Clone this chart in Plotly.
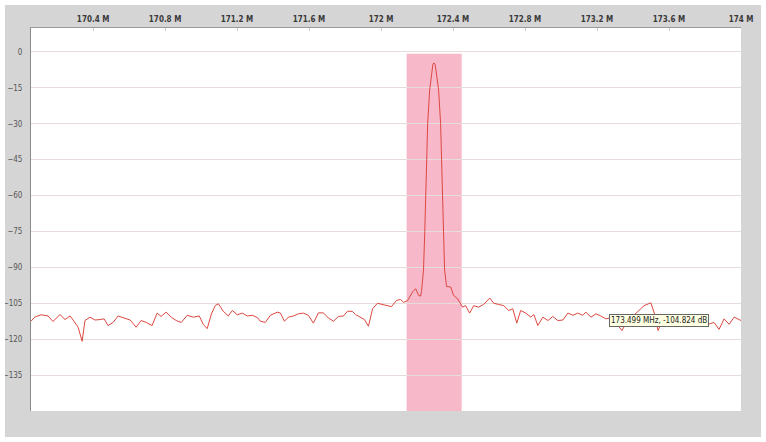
import plotly.graph_objects as go

# Spectrum trace (MHz, dB)
freq_mhz = [
    170.055, 170.075, 170.111, 170.150, 170.177, 170.216, 170.244, 170.272, 170.289, 170.317,
    170.339, 170.355, 170.383, 170.411, 170.439, 170.461, 170.483, 170.511, 170.539, 170.578,
    170.606, 170.639, 170.667, 170.695, 170.728, 170.756, 170.778, 170.806, 170.834, 170.862,
    170.890, 170.923, 170.957, 170.990, 171.012, 171.034, 171.057, 171.079, 171.096, 171.123,
    171.151, 171.174, 171.201, 171.229, 171.257, 171.285, 171.313, 171.329, 171.357, 171.385,
    171.424, 171.441, 171.463, 171.485, 171.513, 171.541, 171.569, 171.596, 171.624, 171.652,
    171.680, 171.708, 171.736, 171.763, 171.791, 171.814, 171.841, 171.858, 171.886, 171.908,
    171.930, 171.953, 171.980, 172.008, 172.036, 172.058, 172.086, 172.108, 172.125, 172.147,
    172.175, 172.192, 172.209, 172.220, 172.225, 172.236, 172.243, 172.250, 172.259, 172.270,
    172.281, 172.288, 172.294, 172.300, 172.306, 172.320, 172.331, 172.339, 172.345, 172.353,
    172.364, 172.387,
    172.403, 172.426, 172.453, 172.470, 172.492, 172.515, 172.542, 172.570, 172.604, 172.626,
    172.654, 172.682, 172.709, 172.732, 172.754, 172.776, 172.804, 172.832, 172.849, 172.871,
    172.899, 172.927, 172.954, 172.982, 173.010, 173.038, 173.066, 173.093, 173.121, 173.138,
    173.166, 173.194, 173.221, 173.249, 173.277, 173.305, 173.338, 173.372, 173.405, 173.433,
    173.461, 173.499, 173.522, 173.539, 173.566, 173.600, 173.633, 173.667, 173.700, 173.733,
    173.767, 173.795, 173.817, 173.850, 173.878, 173.906, 173.934, 173.962, 173.984, 174.000,
]
level_db = [
    -112.5, -110.8, -109.8, -110.3, -112.6, -109.7, -111.8, -110.3, -112.0, -115.0,
    -120.9, -112.2, -110.8, -112.0, -111.8, -111.5, -114.3, -113.0, -110.3, -111.2,
    -112.0, -115.0, -112.2, -113.0, -114.3, -109.1, -110.5, -108.7, -110.8, -112.2,
    -113.0, -110.0, -110.8, -110.3, -113.8, -115.6, -109.5, -105.9, -105.2, -108.3,
    -110.3, -108.0, -109.8, -109.1, -110.3, -110.0, -111.0, -112.5, -113.0, -110.0,
    -108.7, -109.1, -112.5, -110.8, -110.3, -109.4, -109.1, -110.0, -113.3, -109.0,
    -109.0, -111.2, -112.5, -110.5, -110.3, -108.3, -108.4, -109.7, -110.8, -111.8,
    -114.6, -107.3, -105.0, -105.5, -106.2, -106.4, -103.8, -103.4, -104.6, -103.9,
    -100.3, -98.9, -101.7, -102.0, -100.0, -91.0, -75.0, -50.0, -30.0, -16.0,
    -8.0, -5.2, -4.6, -5.2, -8.0, -16.0, -30.0, -50.0, -75.0, -91.0,
    -98.0, -98.2,
    -101.7, -103.2, -106.6, -106.0, -109.1, -106.0, -106.6, -105.5, -102.8, -105.0,
    -105.5, -106.0, -108.0, -107.3, -113.3, -108.0, -109.1, -110.8, -109.7, -114.3,
    -110.8, -112.2, -110.5, -112.2, -112.0, -109.1, -110.0, -109.1, -110.0, -108.7,
    -110.8, -109.4, -110.3, -111.5, -111.0, -113.0, -116.4, -112.0, -110.0, -108.0,
    -106.0, -104.8, -110.0, -116.4, -112.0, -111.0, -112.0, -110.5, -111.5, -112.0,
    -113.0, -112.0, -113.8, -113.0, -115.9, -111.5, -113.8, -110.8, -111.5, -112.2,
]

x_tick_vals = [170.4, 170.8, 171.2, 171.6, 172.0, 172.4, 172.8, 173.2, 173.6, 174.0]
x_tick_text = ["170.4 M", "170.8 M", "171.2 M", "171.6 M", "172 M",
               "172.4 M", "172.8 M", "173.2 M", "173.6 M", "174 M"]
y_tick_vals = [0, -15, -30, -45, -60, -75, -90, -105, -120, -135]

band_mhz = [172.142, 172.448]
band_db = [-150, -0.8]
x_range = [170.055, 174.0]
y_range = [-150, 10]

cursor_label = "173.499 MHz, -104.824 dB"
cursor_label_pos = [173.547, -112.3]

fig = go.Figure()
fig.add_trace(go.Scatter(
    x=freq_mhz, y=level_db, mode="lines",
    line=dict(color="#dc4840", width=1),
    hoverinfo="skip", showlegend=False,
))

# selected channel band
fig.add_shape(type="rect", xref="x", yref="y",
              x0=band_mhz[0], x1=band_mhz[1], y0=band_db[0], y1=band_db[1],
              fillcolor="rgb(247,184,201)", line=dict(width=0), layer="below")

# white outer frame around the grey panel
fig.add_shape(type="rect", xref="paper", yref="paper",
              x0=-31/710, x1=735/710, y0=-31/383, y1=411/383,
              line=dict(color="white", width=10), fillcolor="rgba(0,0,0,0)", layer="above")

fig.add_annotation(
    x=cursor_label_pos[0], y=cursor_label_pos[1], xref="x", yref="y",
    text=cursor_label, showarrow=False,
    font=dict(family="DejaVu Sans Condensed, DejaVu Sans", size=8, color="#222"),
    bgcolor="#ffffe1", bordercolor="#666", borderwidth=1, borderpad=1,
)

fig.update_layout(
    width=766, height=442,
    margin=dict(l=31, r=25, t=28, b=31, autoexpand=False),
    paper_bgcolor="#d5d5d5",
    plot_bgcolor="white",
    xaxis=dict(
        side="top", range=x_range, tickvals=x_tick_vals, ticktext=x_tick_text,
        showgrid=False, zeroline=False, automargin=False,
        ticks="inside", ticklen=3, tickcolor="#cfcfcf",
        showline=True, linecolor="#9a9a9a", linewidth=1, mirror=False,
        tickfont=dict(family="DejaVu Sans Condensed, Liberation Sans Narrow, DejaVu Sans",
                      size=8, color="#3a3a3a", weight="bold"),
        ticklabelstandoff=2,
    ),
    yaxis=dict(
        range=y_range, tickvals=y_tick_vals, automargin=False,
        showgrid=True, gridcolor="#e6dcdc", gridwidth=1, zeroline=False,
        ticks="", showline=True, linecolor="#8a8a8a", linewidth=1,
        tickfont=dict(family="DejaVu Sans Condensed, DejaVu Sans", size=8, color="#555"),
        ticklabelstandoff=6,
    ),
)

fig.write_html("out.html",
               config={"displayModeBar": False},
               post_script="document.body.style.margin='0';document.body.style.overflow='hidden';")
